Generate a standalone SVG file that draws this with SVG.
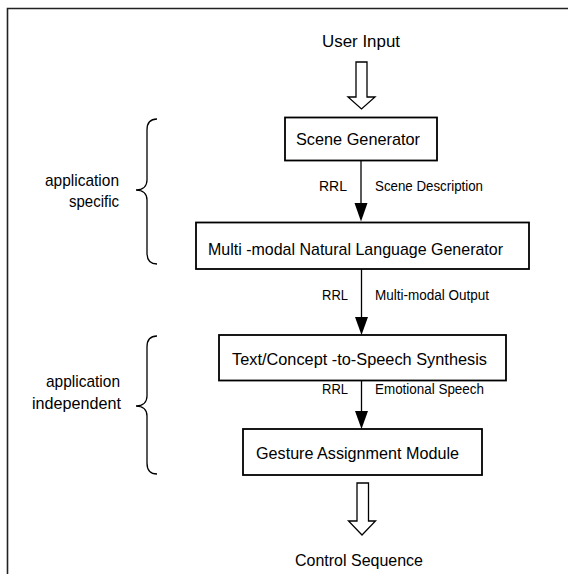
<svg xmlns="http://www.w3.org/2000/svg" width="568" height="574" viewBox="0 0 568 574">
<style>
.t{font-family:"Liberation Sans",Arial,sans-serif;font-size:17px;fill:#000}
.s{font-family:"Liberation Sans",Arial,sans-serif;font-size:14px;fill:#000}
.box{fill:#fff;stroke:#000;stroke-width:1.8}
.ln{stroke:#000;stroke-width:1.3;fill:none}
.hollow{fill:#fff;stroke:#000;stroke-width:1.3;stroke-linejoin:miter}
.brace{fill:none;stroke:#000;stroke-width:1.3}
</style>
<rect x="0" y="0" width="568" height="574" fill="#fff"/>
<path d="M7.5,574 L7.5,8.5 L568,8.5" fill="none" stroke="#222" stroke-width="1.6"/>

<g id="user-input">
<text class="t" x="322" y="47" textLength="78" lengthAdjust="spacingAndGlyphs">User Input</text>
</g>

<g id="scene-generator">
<rect class="box" x="285" y="117.5" width="152" height="43"/>
<text class="t" x="296" y="145" textLength="124" lengthAdjust="spacingAndGlyphs">Scene Generator</text>
</g>

<g id="mnlg">
<rect class="box" x="196" y="222.5" width="333" height="46.5"/>
<text class="t" x="208" y="255" textLength="295" lengthAdjust="spacingAndGlyphs">Multi -modal Natural Language Generator</text>
</g>

<g id="tcss">
<rect class="box" x="219" y="335" width="287" height="45.5"/>
<text class="t" x="232" y="365" textLength="255" lengthAdjust="spacingAndGlyphs">Text/Concept -to-Speech Synthesis</text>
</g>

<g id="gam">
<rect class="box" x="243" y="429" width="239" height="46"/>
<text class="t" x="256" y="459" textLength="203" lengthAdjust="spacingAndGlyphs">Gesture Assignment Module</text>
</g>

<g id="control-sequence">
<text class="t" x="295" y="566" textLength="128" lengthAdjust="spacingAndGlyphs">Control Sequence</text>
</g>

<g id="app-specific">
<text class="t" x="119" y="186" text-anchor="end" textLength="74" lengthAdjust="spacingAndGlyphs">application</text>
<text class="t" x="119" y="207" text-anchor="end" textLength="50" lengthAdjust="spacingAndGlyphs">specific</text>
<path class="brace" d="M157,119 C150,119 147,123 147,130 L147,180 C147,186 143,190 136,190 C143,190 147,194 147,200 L147,253 C147,260 150,264 157,264"/>
</g>

<g id="app-independent">
<text class="t" x="120" y="387" text-anchor="end" textLength="74" lengthAdjust="spacingAndGlyphs">application</text>
<text class="t" x="121" y="409" text-anchor="end" textLength="89" lengthAdjust="spacingAndGlyphs">independent</text>
<path class="brace" d="M157,336 C150,336 147,340 147,347 L147,396 C147,402 143,406 136,406 C143,406 147,410 147,416 L147,463 C147,470 150,474 157,474"/>
</g>

<g id="connectors">
<polygon class="hollow" points="356,62 367,62 367,97 375,97 361.5,109 348,97 356,97"/>
<line class="ln" x1="361" y1="160.5" x2="361" y2="204"/>
<polygon points="354.5,203 367.5,203 361,221.5" fill="#000"/>
<line class="ln" x1="361.5" y1="269" x2="361.5" y2="318"/>
<polygon points="355,317 368,317 361.5,335" fill="#000"/>
<line class="ln" x1="361.5" y1="380.5" x2="361.5" y2="412"/>
<polygon points="355,411 368,411 361.5,429" fill="#000"/>
<polygon class="hollow" points="357,483 368.5,483 368.5,521 375.5,521 362,535 348.5,521 357,521"/>
<text class="s" x="319" y="191" textLength="28" lengthAdjust="spacingAndGlyphs">RRL</text>
<text class="s" x="375" y="191" textLength="108" lengthAdjust="spacingAndGlyphs">Scene Description</text>
<text class="s" x="322" y="300" textLength="26" lengthAdjust="spacingAndGlyphs">RRL</text>
<text class="s" x="375" y="300" textLength="114" lengthAdjust="spacingAndGlyphs">Multi-modal Output</text>
<text class="s" x="322" y="394" textLength="26" lengthAdjust="spacingAndGlyphs">RRL</text>
<text class="s" x="375" y="394" textLength="109" lengthAdjust="spacingAndGlyphs">Emotional Speech</text>
</g>
</svg>
